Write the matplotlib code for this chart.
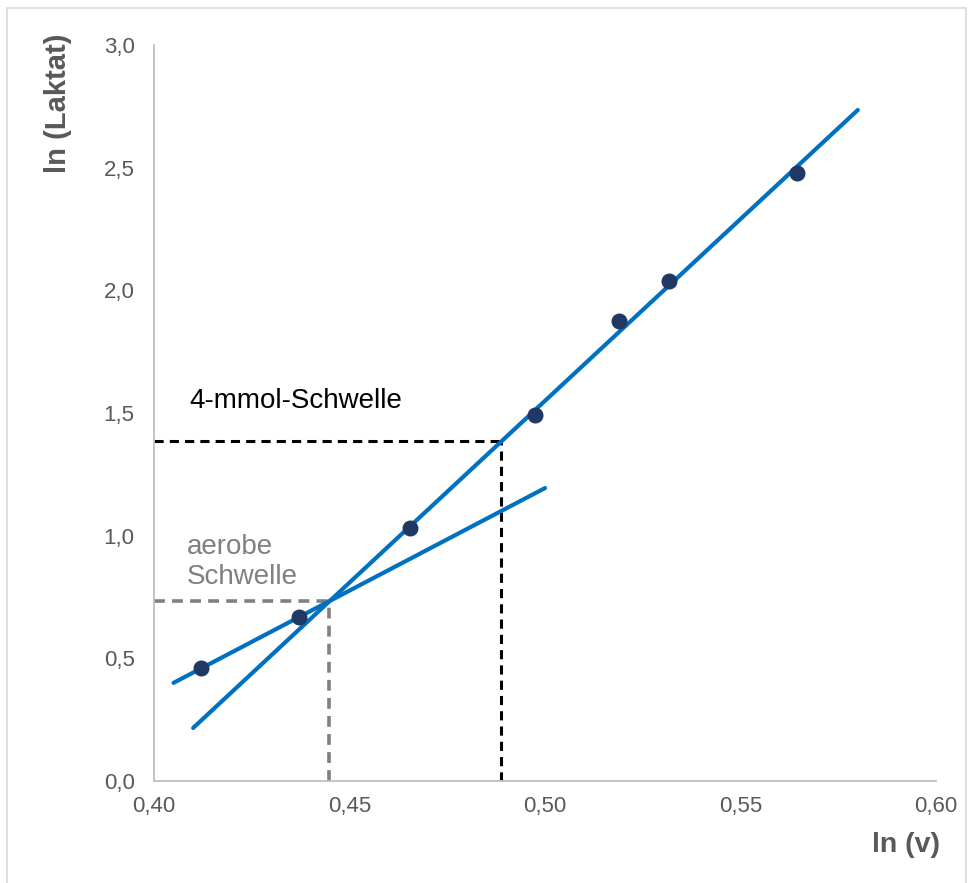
import matplotlib
matplotlib.use("Agg")
import matplotlib.pyplot as plt
from matplotlib.patches import Rectangle

# Measured points: ln(speed) vs ln(lactate)
ln_v = [0.4120, 0.4371, 0.4655, 0.4974, 0.5189, 0.5317, 0.5645]
ln_lactate = [0.461, 0.669, 1.031, 1.492, 1.875, 2.038, 2.479]

# Regression lines (start/end points)
steep_x = [0.410, 0.580]
steep_y = [0.216, 2.735]
flat_x = [0.405, 0.500]
flat_y = [0.400, 1.194]

# Thresholds
aerobic_x, aerobic_y = 0.4448, 0.733
mmol4_x, mmol4_y = 0.4887, 1.386

x_ticks = [0.40, 0.45, 0.50, 0.55, 0.60]
y_ticks = [0.0, 0.5, 1.0, 1.5, 2.0, 2.5, 3.0]

plt.rcParams['font.family'] = ['Liberation Sans', 'DejaVu Sans']

fig = plt.figure(figsize=(9.73, 8.83), dpi=100)
ax = fig.add_axes([154/973, 1-781/883, (936-154)/973, (781-45)/883])

line_col = '#0070C0'
ax.plot(steep_x, steep_y, color=line_col, lw=3.0, solid_capstyle='round', zorder=3)
ax.plot(flat_x, flat_y, color=line_col, lw=3.0, solid_capstyle='round', zorder=3)

ax.plot(ln_v, ln_lactate, 'o', color='#1F3864', markersize=10.5, zorder=4)

# 4-mmol threshold guides
ax.plot([0.40, mmol4_x], [mmol4_y, mmol4_y], color='black', lw=2.2,
        dashes=(3, 2), zorder=2)
ax.plot([mmol4_x, mmol4_x], [0, mmol4_y], color='black', lw=2.2,
        dashes=(3, 2), zorder=2)
# aerobic threshold guides
ax.plot([0.40, aerobic_x], [aerobic_y, aerobic_y], color='#808080', lw=2.6,
        dashes=(3, 2), zorder=2)
ax.plot([aerobic_x, aerobic_x], [0, aerobic_y], color='#808080', lw=2.6,
        dashes=(3, 2), zorder=2)

ax.text(0.4090, 1.55, '4-mmol-Schwelle', fontsize=20, color='black',
        ha='left', va='center')
ax.text(0.4085, 0.893, 'aerobe\nSchwelle', fontsize=20, color='#808080',
        ha='left', va='center', linespacing=1.2)

ax.set_xlim(0.40, 0.60)
ax.set_ylim(0.0, 3.0)
ax.set_xticks(x_ticks)
ax.set_yticks(y_ticks)
ax.set_xticklabels([f"{t:.2f}".replace('.', ',') for t in x_ticks])
ax.set_yticklabels([f"{t:.1f}".replace('.', ',') for t in y_ticks])
ax.tick_params(length=0, labelsize=16, labelcolor='#595959', pad=11)
ax.tick_params(axis='y', pad=14)

for s in ['top', 'right']:
    ax.spines[s].set_visible(False)
for s in ['left', 'bottom']:
    ax.spines[s].set_color('#BFBFBF')
    ax.spines[s].set_linewidth(1.3)

fig.text(58/973, 1-103/883, 'ln (Laktat)', rotation=90, fontsize=21,
         fontweight='bold', color='#595959', ha='center', va='center')
fig.text(906/973, 1-845/883, 'ln (v)', fontsize=20.5, fontweight='bold',
         color='#595959', ha='center', va='center')

# light frame around the chart
fig.patches.append(Rectangle((7/973, -0.05), (966-7)/973, 1.05-8/883,
                             transform=fig.transFigure, fill=False,
                             edgecolor='#D9D9D9', lw=1.2))

fig.savefig('out.png', dpi=100, facecolor='white')
